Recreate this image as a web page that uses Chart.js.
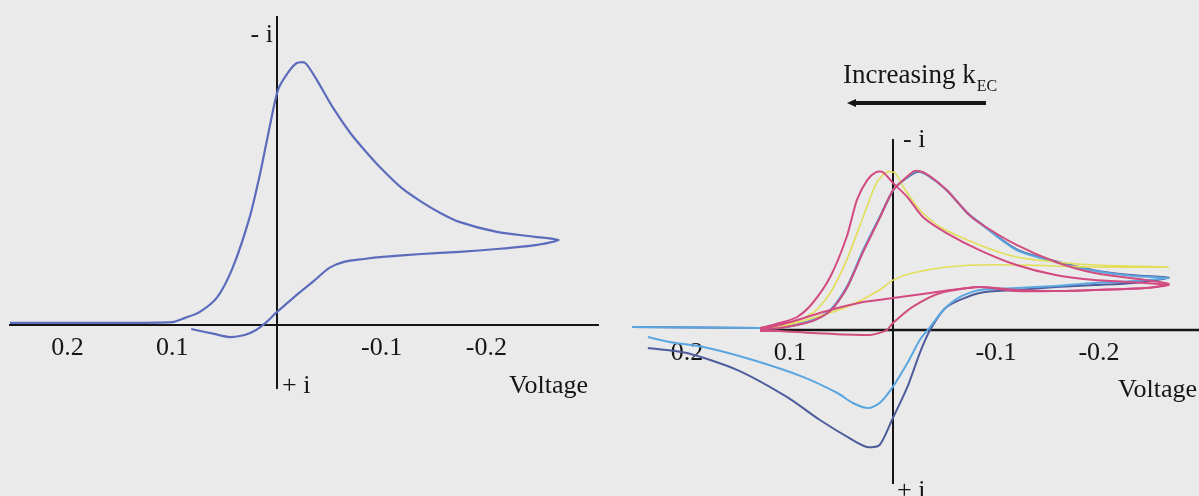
<!DOCTYPE html>
<html>
<head>
<meta charset="utf-8">
<script src="https://cdn.jsdelivr.net/npm/chart.js@4/dist/chart.umd.min.js"></script>
<style>
  html, body { margin: 0; padding: 0; background: #eaeaea; }
  #wrap { position: relative; width: 1199px; height: 496px; overflow: hidden; }
  #leftBox { position: absolute; left: 0; top: 0; width: 600px; height: 496px; }
  #rightBox { position: absolute; left: 600px; top: 0; width: 599px; height: 496px; }
</style>
</head>
<body>
<div id="wrap">
  <div id="leftBox"><canvas id="leftChart"></canvas></div>
  <div id="rightBox"><canvas id="rightChart"></canvas></div>
</div>
<script>
// tick labels on the voltage axes
const voltTicks = [0.2, 0.1, -0.1, -0.2];

// left plot: single voltammogram (voltage in V, current normalised, up = -i)
const leftV = [0.255, 0.169, 0.100, 0.088, 0.074, 0.057, 0.042, 0.026, 0.016, 0.007, -0.001, -0.011, -0.019, -0.027,
  -0.038, -0.053, -0.070, -0.086, -0.101, -0.119, -0.138, -0.156, -0.174, -0.210, -0.247, -0.269,
  -0.247, -0.210, -0.174, -0.138, -0.101, -0.083, -0.064, -0.050, -0.035, -0.022, -0.010, 0.001, 0.009,
  0.020, 0.031, 0.045, 0.060, 0.082];
const leftI = [0.008, 0.008, 0.011, 0.027, 0.049, 0.106, 0.221, 0.411, 0.578, 0.753, 0.894, 0.962, 0.996, 0.996,
  0.932, 0.829, 0.730, 0.654, 0.589, 0.521, 0.468, 0.426, 0.392, 0.354, 0.335, 0.323,
  0.304, 0.289, 0.278, 0.270, 0.259, 0.251, 0.240, 0.217, 0.167, 0.125, 0.084, 0.046, 0.015,
  -0.019, -0.038, -0.046, -0.034, -0.015];

// right plot: series for different k_EC
const redFastV = [0.129, 0.110, 0.093, 0.078, 0.061, 0.045, 0.035, 0.025, 0.016, 0.010, 0.000, -0.014, -0.029, -0.052,
  -0.084, -0.120, -0.158, -0.196, -0.245, -0.268,
  -0.245, -0.196, -0.158, -0.120, -0.084, -0.036, 0.000, 0.029, 0.061, 0.093, 0.110, 0.129];
const redFastI = [0.013, 0.044, 0.082, 0.170, 0.333, 0.585, 0.818, 0.943, 0.994, 0.994, 0.925, 0.836, 0.711, 0.610,
  0.503, 0.409, 0.346, 0.314, 0.296, 0.283,
  0.264, 0.252, 0.245, 0.245, 0.270, 0.233, 0.201, 0.176, 0.126, 0.063, 0.031, 0.000];

const yellowV = [0.129, 0.110, 0.078, 0.061, 0.045, 0.029, 0.016, 0.006, -0.002, -0.010, -0.026, -0.046, -0.084,
  -0.120, -0.158, -0.196, -0.268,
  -0.196, -0.158, -0.120, -0.084, -0.052, -0.019, 0.000, 0.013, 0.045, 0.078, 0.110, 0.129];
const yellowI = [0.013, 0.019, 0.107, 0.233, 0.440, 0.711, 0.925, 0.994, 0.987, 0.899, 0.755, 0.648, 0.535,
  0.459, 0.428, 0.409, 0.396,
  0.396, 0.403, 0.409, 0.409, 0.396, 0.358, 0.314, 0.252, 0.145, 0.075, 0.019, 0.006];

const redSlowV = [0.129, 0.110, 0.078, 0.061, 0.045, 0.029, 0.013, 0.000, -0.010, -0.021, -0.031, -0.052, -0.072,
  -0.084, -0.120, -0.158, -0.196, -0.245, -0.268,
  -0.245, -0.196, -0.158, -0.120, -0.084, -0.046, -0.019, 0.000, 0.006, 0.022, 0.078, 0.110, 0.129];
const redSlowI = [0.006, 0.013, 0.057, 0.119, 0.264, 0.491, 0.704, 0.881, 0.943, 1.000, 0.987, 0.881, 0.736,
  0.673, 0.535, 0.428, 0.358, 0.314, 0.289,
  0.264, 0.252, 0.245, 0.252, 0.270, 0.233, 0.145, 0.044, 0.000, -0.031, -0.019, -0.006, -0.006];

const lightBlueV = [0.253, 0.129, 0.110, 0.078, 0.061, 0.045, 0.029, 0.013, 0.000, -0.010, -0.023, -0.033, -0.052,
  -0.072, -0.084, -0.120, -0.158, -0.196, -0.234, -0.268,
  -0.234, -0.196, -0.158, -0.120, -0.084, -0.065, -0.049, -0.036, -0.026, -0.014, 0.001, 0.013, 0.024,
  0.039, 0.054, 0.087, 0.136, 0.184, 0.217, 0.238];
const lightBlueI = [0.019, 0.013, 0.013, 0.063, 0.126, 0.270, 0.503, 0.711, 0.881, 0.943, 1.000, 0.975, 0.881,
  0.736, 0.673, 0.503, 0.428, 0.371, 0.340, 0.327,
  0.308, 0.296, 0.277, 0.264, 0.252, 0.208, 0.126, 0.019, -0.063, -0.208, -0.365, -0.459, -0.491,
  -0.459, -0.396, -0.296, -0.189, -0.107, -0.075, -0.044];

const navyV = [0.253, 0.129, 0.110, 0.078, 0.061, 0.045, 0.029, 0.013, 0.000, -0.010, -0.024, -0.034, -0.052,
  -0.072, -0.084, -0.120, -0.158, -0.196, -0.234, -0.268,
  -0.234, -0.196, -0.158, -0.120, -0.084, -0.052, -0.036, -0.026, -0.014, 0.001, 0.013, 0.025,
  0.039, 0.071, 0.103, 0.151, 0.200, 0.238];
const navyI = [0.019, 0.013, 0.013, 0.060, 0.120, 0.262, 0.495, 0.705, 0.876, 0.940, 0.995, 0.972, 0.880,
  0.738, 0.676, 0.507, 0.432, 0.375, 0.344, 0.330,
  0.296, 0.283, 0.270, 0.252, 0.233, 0.145, 0.000, -0.145, -0.358, -0.566, -0.723, -0.736,
  -0.692, -0.566, -0.421, -0.252, -0.145, -0.113];

const toPoints = (vs, is) => vs.map((v, k) => ({ x: v, y: is[k] }));

const FONT = '"Liberation Serif", "DejaVu Serif", serif';
const INK = '#151515';

// draws "- i", "+ i", "Voltage" and the optional kEC arrow / partial x axis
const axisText = {
  id: 'axisText',
  beforeDatasetsDraw(chart, args, opts) {
    if (opts.axisFrom === undefined) return;
    const { ctx, chartArea } = chart;
    const y0 = chart.scales.y.getPixelForValue(0);
    const xs = chart.scales.x.getPixelForValue(opts.axisFrom);
    ctx.save();
    ctx.strokeStyle = INK;
    ctx.lineWidth = 2.5;
    ctx.beginPath();
    ctx.moveTo(xs, y0);
    ctx.lineTo(chartArea.right, y0);
    ctx.stroke();
    ctx.restore();
  },
  afterDraw(chart, args, opts) {
    const { ctx, chartArea } = chart;
    const x0 = chart.scales.x.getPixelForValue(0);
    ctx.save();
    ctx.fillStyle = INK;
    ctx.font = '26px ' + FONT;
    ctx.textBaseline = 'middle';
    ctx.textAlign = opts.minus.align;
    ctx.fillText('- i', x0 + opts.minus.dx, chartArea.top + opts.minus.dy);
    ctx.textAlign = 'left';
    ctx.fillText('+ i', x0 + opts.plus.dx, chartArea.bottom + opts.plus.dy);
    ctx.textAlign = 'right';
    ctx.fillText('Voltage', opts.volt.x, opts.volt.y);
    if (opts.arrow) {
      const a = opts.arrow;
      ctx.textAlign = 'left';
      ctx.textBaseline = 'alphabetic';
      ctx.font = '27px ' + FONT;
      ctx.fillText('Increasing k', a.textX, a.textY);
      const w = ctx.measureText('Increasing k').width;
      ctx.font = '16px ' + FONT;
      ctx.fillText('EC', a.textX + w + 1, a.textY + 8);
      ctx.strokeStyle = INK;
      ctx.lineWidth = 4;
      ctx.beginPath();
      ctx.moveTo(a.x1, a.y);
      ctx.lineTo(a.x2, a.y);
      ctx.stroke();
      ctx.beginPath();
      ctx.moveTo(a.x2 - 5, a.y);
      ctx.lineTo(a.x2 + 4, a.y - 4);
      ctx.lineTo(a.x2 + 4, a.y + 4);
      ctx.closePath();
      ctx.fill();
    }
    ctx.restore();
  }
};

function lineSet(label, pts, color, width) {
  return {
    label: label,
    data: pts,
    showLine: true,
    borderColor: color,
    backgroundColor: color,
    borderWidth: width,
    pointRadius: 0,
    tension: 0.25,
    fill: false,
    clip: false
  };
}

function axes(xMin, xMax, yMin, yMax, xBorder) {
  return {
    x: {
      type: 'linear',
      reverse: true,
      min: xMin,
      max: xMax,
      position: { y: 0 },
      grid: { display: false },
      border: { display: xBorder, color: INK, width: 2 },
      afterBuildTicks: (scale) => { scale.ticks = voltTicks.map(v => ({ value: v })); },
      ticks: {
        color: INK,
        font: { family: FONT, size: 26 },
        padding: 0,
        maxRotation: 0,
        autoSkip: false,
        callback: (v) => String(v)
      }
    },
    y: {
      type: 'linear',
      min: yMin,
      max: yMax,
      position: { x: 0 },
      grid: { display: false },
      border: { display: true, color: INK, width: 2 },
      ticks: { display: false }
    }
  };
}

const commonOpts = {
  responsive: false,
  animation: false,
  events: [],
  plugins: { legend: { display: false }, tooltip: { enabled: false } }
};

const leftCanvas = document.getElementById('leftChart');
leftCanvas.width = 600; leftCanvas.height = 496;
new Chart(leftCanvas.getContext('2d'), {
  type: 'scatter',
  data: {
    datasets: [lineSet('k = 0', toPoints(leftV, leftI), '#5b6cbc', 2.2)]
  },
  options: Object.assign({}, commonOpts, {
    layout: { padding: { left: 10, right: 2, top: 17, bottom: 108 } },
    scales: axes(-0.3066, 0.255, -0.2395, 1.171, true),
    plugins: Object.assign({}, commonOpts.plugins, {
      axisText: {
        minus: { dx: -4, dy: 18, align: 'right' },
        plus: { dx: 5, dy: -2 },
        volt: { x: 588, y: 386 }
      }
    })
  }),
  plugins: [axisText]
});

const rightCanvas = document.getElementById('rightChart');
rightCanvas.width = 599; rightCanvas.height = 496;
new Chart(rightCanvas.getContext('2d'), {
  type: 'scatter',
  data: {
    datasets: [
      lineSet('fast', toPoints(redFastV, redFastI), '#d24a80', 2),
      lineSet('slow', toPoints(redSlowV, redSlowI), '#cf4f7f', 2),
      lineSet('mid', toPoints(yellowV, yellowI), '#e2de5a', 1.6),
      lineSet('light blue', toPoints(lightBlueV, lightBlueI), '#5aa6e0', 2),
      lineSet('navy', toPoints(navyV, navyI), '#4f5c9c', 2)
    ]
  },
  options: Object.assign({}, commonOpts, {
    layout: { padding: { left: 32, right: 0, top: 140, bottom: 13 } },
    scales: axes(-0.2971, 0.2534, -0.962, 1.195, false),
    plugins: Object.assign({}, commonOpts.plugins, {
      axisText: {
        axisFrom: 0.129,
        minus: { dx: 10, dy: 0, align: 'left' },
        plus: { dx: 4, dy: 8 },
        volt: { x: 597, y: 390 },
        arrow: { textX: 243, textY: 83, x1: 386, x2: 252, y: 103 }
      }
    })
  }),
  plugins: [axisText]
});
</script>
</body>
</html>
